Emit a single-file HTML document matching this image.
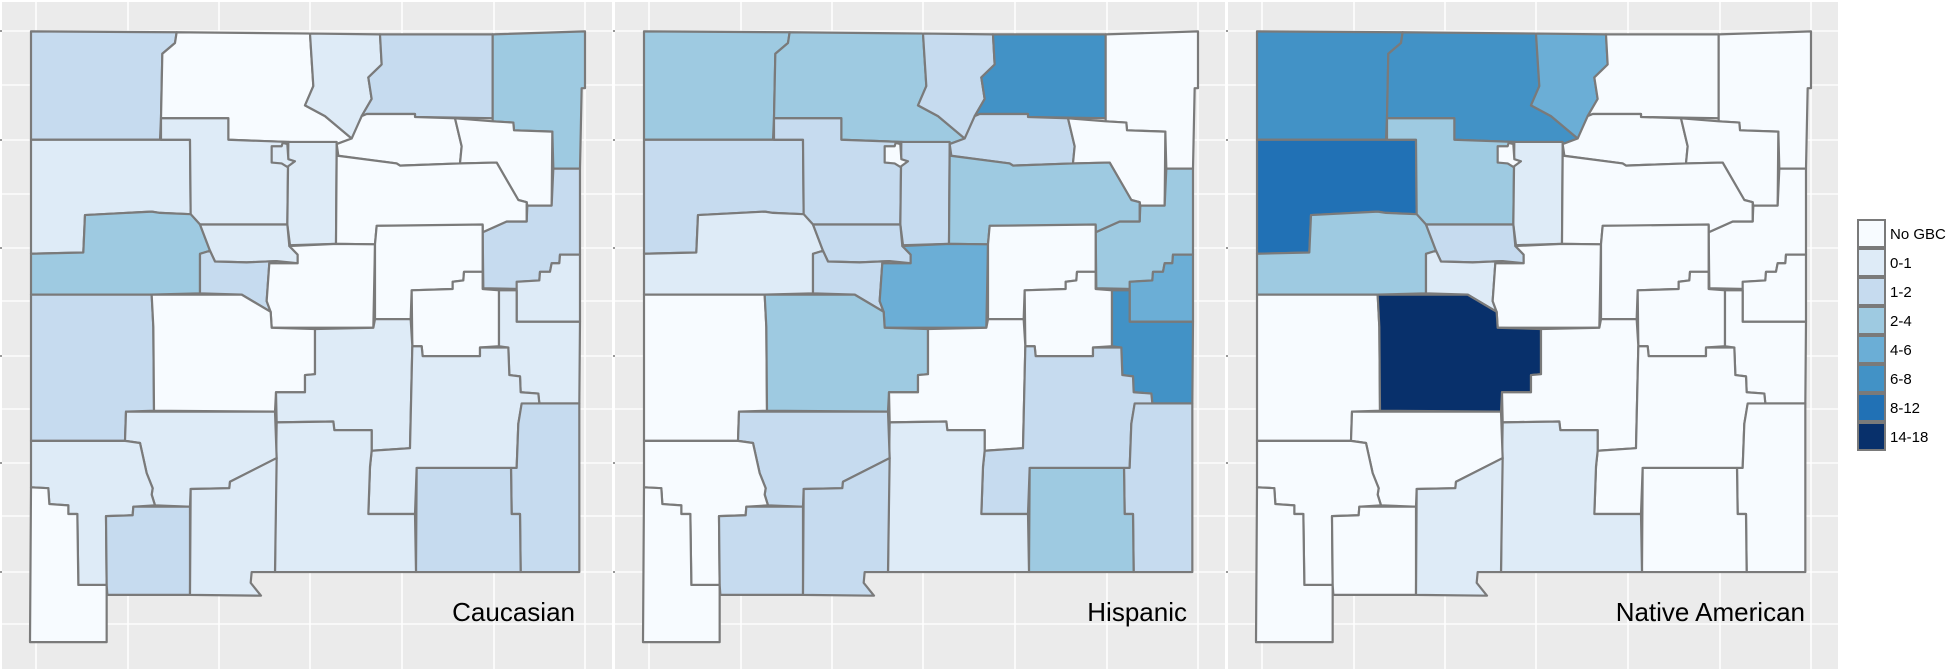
<!DOCTYPE html>
<html><head><meta charset="utf-8"><style>
html,body{margin:0;padding:0;background:#fff;}
svg{display:block;}
text{font-family:"Liberation Sans",Arial,sans-serif;}
</style></head><body>
<svg id="s" width="1946" height="671" xmlns="http://www.w3.org/2000/svg">
<rect x="0" y="0" width="1946" height="671" fill="#fff"/>
</svg>
<script>
const C={w:"#f7fbff",a:"#deebf7",b:"#c6dbef",c:"#9ecae1",d:"#6baed6",e:"#4292c6",f:"#2171b5",g:"#08306b"};
const P={
SanJuan:"93,73 530,75 525,100 487,125 483,275 480,325 93,325",
RioArriba:"530,75 930,78 940,200 915,245 975,270 1055,322 1010,335 865,330 685,325 685,275 483,275 487,125 525,100",
Taos:"930,78 1140,80 1145,150 1105,180 1115,230 1085,270 1080,310 1055,322 975,270 915,245 940,200",
Colfax:"1140,80 1478,80 1478,275 1245,272 1245,265 1100,265 1085,270 1115,230 1105,180 1145,150",
Union:"1478,80 1755,73 1755,205 1745,205 1740,392 1660,392 1657,306 1542,303 1540,285 1478,282",
McKinley:"93,325 570,325 572,498 480,495 455,492 255,500 250,587 93,590",
Sandoval:"483,275 685,275 685,325 865,330 862,522 600,522 572,498 570,325 483,325",
SantaFe:"865,330 1010,330 1008,567 870,570 862,522",
Mora:"1055,322 1085,270 1100,265 1245,265 1245,272 1365,275 1385,340 1380,380 1200,385 1190,380 1015,362 1010,335",
Harding:"1365,275 1478,282 1540,285 1542,303 1657,306 1655,478 1582,478 1580,470 1555,465 1490,378 1380,380 1385,340",
Quay:"1660,392 1740,392 1740,592 1680,592 1678,612 1655,612 1650,632 1620,632 1618,652 1560,655 1558,672 1450,670 1448,540 1520,515 1580,515 1582,478 1655,478",
SanMiguel:"1010,362 1190,380 1200,385 1380,380 1490,378 1555,465 1580,470 1580,515 1520,515 1448,540 1448,525 1130,525 1125,568 1008,567",
Cibola:"93,590 250,587 255,500 455,492 480,495 572,498 600,522 630,583 600,590 600,682 455,685 93,685",
Bernalillo:"600,522 862,522 868,572 893,592 893,612 830,607 740,610 645,608 630,583",
Valencia:"600,590 630,583 645,608 740,610 830,607 808,612 800,700 812,725 725,685 600,682",
Torrance:"808,612 893,612 893,592 868,572 1008,567 1125,568 1120,762 815,762 812,725 800,700",
Guadalupe:"1130,525 1448,522 1448,632 1392,632 1390,652 1358,655 1358,672 1235,675 1232,742 1125,742 1125,568",
DeBaca:"1235,675 1358,672 1358,655 1390,652 1392,632 1448,632 1448,672 1497,675 1497,805 1440,808 1440,828 1268,828 1265,805 1237,805",
Curry:"1550,655 1618,652 1620,632 1650,632 1655,612 1678,612 1680,592 1740,592 1740,748 1550,748",
Roosevelt:"1497,675 1550,675 1550,748 1740,748 1738,938 1618,938 1615,915 1562,912 1560,875 1528,872 1525,808 1497,805",
Catron:"93,685 455,685 460,760 462,955 378,957 375,1025 93,1025",
Socorro:"455,685 725,685 812,725 815,762 945,765 945,870 915,872 915,912 828,912 825,957 462,955 460,760",
Lincoln:"945,765 1120,762 1125,742 1232,742 1237,805 1230,1042 1115,1048 1115,1000 1003,1000 1000,980 830,982 828,912 915,912 915,872 945,870",
Chaves:"1237,805 1265,805 1268,828 1440,828 1440,808 1525,808 1528,872 1560,875 1562,912 1615,915 1618,938 1565,940 1555,985 1550,1088 1250,1088 1245,1195 1105,1195 1110,1085 1115,1048 1230,1042",
Lea:"1565,938 1738,938 1738,1330 1562,1330 1560,1195 1535,1195 1533,1088 1550,1088 1555,985",
Eddy:"1250,1088 1533,1088 1535,1195 1560,1195 1562,1330 1248,1330",
Otero:"830,982 1000,980 1003,1000 1115,1000 1115,1048 1110,1085 1105,1195 1245,1195 1248,1330 825,1330 828,1080",
Sierra:"378,957 825,957 830,1065 690,1120 688,1135 572,1137 570,1178 465,1175 455,1150 458,1135 440,1100 420,1030 375,1025",
Grant:"93,1025 375,1025 420,1030 440,1100 458,1135 455,1150 465,1175 400,1178 398,1198 318,1200 320,1360 235,1360 232,1195 205,1195 205,1175 148,1172 145,1135 93,1133",
Hidalgo:"93,1133 145,1135 148,1172 205,1175 205,1195 232,1195 235,1360 320,1360 320,1493 90,1493",
Luna:"318,1200 398,1198 400,1178 570,1178 570,1383 322,1383 320,1360",
DonaAna:"572,1137 688,1135 690,1120 830,1065 825,1330 755,1330 752,1355 783,1385 570,1383",
LosAlamos:"815,340 845,340 848,332 862,335 865,370 885,375 862,388 845,380 815,378"
};
const cols=[
{SanJuan:"b",RioArriba:"w",Taos:"a",Colfax:"b",Union:"c",McKinley:"a",Sandoval:"a",SantaFe:"a",Mora:"w",Harding:"w",Quay:"b",SanMiguel:"w",Cibola:"c",Bernalillo:"a",Valencia:"b",Torrance:"w",Guadalupe:"w",DeBaca:"w",Curry:"a",Roosevelt:"a",Catron:"b",Socorro:"w",Lincoln:"a",Chaves:"a",Lea:"b",Eddy:"b",Otero:"a",Sierra:"a",Grant:"a",Hidalgo:"w",Luna:"b",DonaAna:"a",LosAlamos:"a"},
{SanJuan:"c",RioArriba:"c",Taos:"b",Colfax:"e",Union:"w",McKinley:"b",Sandoval:"b",SantaFe:"b",Mora:"b",Harding:"w",Quay:"c",SanMiguel:"c",Cibola:"a",Bernalillo:"b",Valencia:"b",Torrance:"d",Guadalupe:"w",DeBaca:"w",Curry:"d",Roosevelt:"e",Catron:"w",Socorro:"c",Lincoln:"w",Chaves:"b",Lea:"b",Eddy:"c",Otero:"a",Sierra:"b",Grant:"w",Hidalgo:"w",Luna:"b",DonaAna:"b",LosAlamos:"w"},
{SanJuan:"e",RioArriba:"e",Taos:"d",Colfax:"w",Union:"w",McKinley:"f",Sandoval:"c",SantaFe:"a",Mora:"w",Harding:"w",Quay:"w",SanMiguel:"w",Cibola:"c",Bernalillo:"b",Valencia:"a",Torrance:"w",Guadalupe:"w",DeBaca:"w",Curry:"w",Roosevelt:"w",Catron:"w",Socorro:"g",Lincoln:"w",Chaves:"w",Lea:"w",Eddy:"w",Otero:"a",Sierra:"w",Grant:"w",Hidalgo:"w",Luna:"w",DonaAna:"a",LosAlamos:"w"}];
const titles=["Caucasian","Hispanic","Native American"];
let h="";
for(let k=0;k<3;k++){
 const ox=613*k;
 h+=`<rect x="${2+ox}" y="2" width="610" height="667" fill="#ebebeb"/>`;
 for(const gx of [36,128,219,310,402,494,585]) h+=`<line x1="${gx+ox}" y1="2" x2="${gx+ox}" y2="669" stroke="#fff" stroke-width="1.5"/>`;
 for(const gy of [31,85,140,194,248,301,356,409,463,516,572,624]) h+=`<line x1="${2+ox}" y1="${gy}" x2="${612+ox}" y2="${gy}" stroke="#fff" stroke-width="1.3"/>`;
 for(const gy of [31,140,248,356,463,572]) h+=`<line x1="${ox}" y1="${gy}" x2="${2+ox}" y2="${gy}" stroke="#333" stroke-width="1"/>`;
 h+=`<g transform="translate(${ox},0) scale(0.33333,0.43011)">`;
 for(const n in P) h+=`<polygon points="${P[n]}" fill="${C[cols[k][n]]}" stroke="#7a7a7a" stroke-width="2.2" stroke-linejoin="round" vector-effect="non-scaling-stroke"/>`;
 h+=`</g>`;
 h+=`<text x="${[575,574,579][k]+ox}" y="621" font-size="26" text-anchor="end" fill="#000">${titles[k]}</text>`;
}
const lab=["No GBC","0-1","1-2","2-4","4-6","6-8","8-12","14-18"];
const lc=["w","a","b","c","d","e","f","g"];
for(let i=0;i<8;i++){
 const y=220+29*i;
 h+=`<rect x="1858" y="${y}" width="27" height="27" fill="${C[lc[i]]}" stroke="#7a7a7a" stroke-width="2"/>`;
 h+=`<text x="1890" y="${y+19}" font-size="15" fill="#000">${lab[i]}</text>`;
}
document.getElementById("s").insertAdjacentHTML("beforeend",h);
</script>
</body></html>
